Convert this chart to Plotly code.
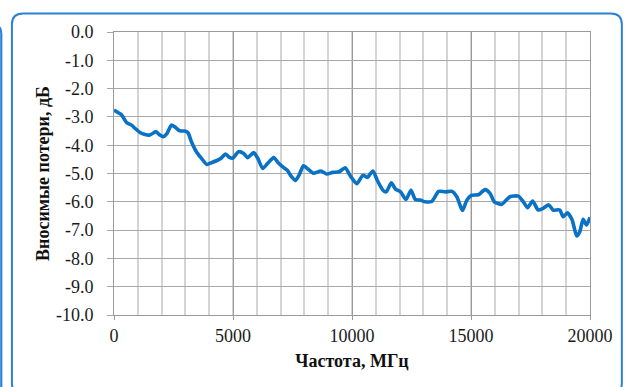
import plotly.graph_objects as go

# Insertion loss vs frequency
freq_mhz = [0, 180, 320, 530, 740, 880, 1090, 1300, 1510, 1760, 1900, 2060, 2230, 2410,
            2550, 2760, 2970, 3110, 3250, 3460, 3670, 3900, 4090, 4300, 4500, 4690, 4850,
            4990, 5230, 5450, 5620, 5870, 6040, 6250, 6460, 6710, 6880, 7080, 7270, 7460,
            7620, 7780, 7960, 8160, 8380, 8690, 8940, 9180, 9460, 9710, 9950, 10200, 10460,
            10640, 10880, 11060, 11300, 11440, 11650, 11830, 12040, 12270, 12480, 12660,
            12870, 13080, 13360, 13640, 13920, 14200, 14410, 14640, 14820, 15010, 15310,
            15590, 15800, 15980, 16290, 16500, 16640, 16990, 17200, 17380, 17590, 17820,
            18030, 18270, 18450, 18730, 18870, 19050, 19250, 19440, 19570, 19710, 19850,
            20000]
loss_db = [-2.76, -2.85, -2.93, -3.2, -3.29, -3.4, -3.55, -3.62, -3.64, -3.52, -3.62, -3.7,
           -3.58, -3.29, -3.35, -3.49, -3.5, -3.56, -3.87, -4.23, -4.46, -4.68, -4.62, -4.55,
           -4.46, -4.31, -4.43, -4.46, -4.23, -4.29, -4.44, -4.26, -4.46, -4.82, -4.64,
           -4.44, -4.6, -4.76, -4.88, -5.11, -5.25, -5.05, -4.73, -4.85, -4.99, -4.91,
           -5.02, -4.96, -4.94, -4.8, -5.11, -5.36, -5.06, -5.14, -4.91, -5.24, -5.59,
           -5.65, -5.33, -5.55, -5.65, -5.92, -5.59, -5.92, -5.94, -6.0, -5.98, -5.63,
           -5.65, -5.63, -5.83, -6.31, -5.95, -5.77, -5.75, -5.57, -5.7, -6.0, -6.09,
           -5.92, -5.82, -5.8, -6.0, -6.21, -5.97, -6.29, -6.23, -6.11, -6.29, -6.29,
           -6.53, -6.39, -6.64, -7.21, -7.06, -6.62, -6.82, -6.55]

y_tick_vals = [0, -1, -2, -3, -4, -5, -6, -7, -8, -9, -10]
y_tick_text = ["0.0", "-1.0", "-2.0", "-3.0", "-4.0", "-5.0", "-6.0", "-7.0", "-8.0",
               "-9.0", "-10.0"]
x_tick_vals = [0, 5000, 10000, 15000, 20000]
x_tick_text = ["0", "5000", "10000", "15000", "20000"]

x_title = "Частота, МГц"
y_title = "Вносимые потери, дБ"

W, H = 625, 387
ML, MR, MT, MB = 114, 33, 32, 72
PW, PH = W - ML - MR, H - MT - MB


def px(x, y):
    """Convert page pixels to paper coordinates."""
    return (x - ML) / PW, (H - MB - y) / PH


def rounded_rect(x0, y0, x1, y1, r):
    def P(x, y):
        a, b = px(x, y)
        return f"{a:.5f},{b:.5f}"
    return (f"M{P(x0 + r, y0)} L{P(x1 - r, y0)} Q{P(x1, y0)} {P(x1, y0 + r)} "
            f"L{P(x1, y1 - r)} Q{P(x1, y1)} {P(x1 - r, y1)} L{P(x0 + r, y1)} "
            f"Q{P(x0, y1)} {P(x0, y1 - r)} L{P(x0, y0 + r)} Q{P(x0, y0)} {P(x0 + r, y0)} Z")


serif = "Times New Roman"
frame_blue = "#2a82d2"

fig = go.Figure()
fig.add_trace(go.Scatter(
    x=freq_mhz, y=loss_db, mode="lines",
    line=dict(color="#0a72c4", width=3.6, shape="spline", smoothing=0.6),
    showlegend=False, hoverinfo="skip",
))

fig.update_layout(
    width=W, height=H,
    margin=dict(l=ML, r=MR, t=MT, b=MB, pad=0),
    paper_bgcolor="white", plot_bgcolor="white",
    font=dict(family=serif, size=18, color="#1a1a1a"),
    xaxis=dict(
        range=[0, 20000], tickvals=x_tick_vals, ticktext=x_tick_text,
        showgrid=True, gridcolor="#9a9a9a", gridwidth=1,
        minor=dict(dtick=1000, showgrid=True, gridcolor="#d4d4d4", gridwidth=1.6,
                   ticks=""),
        ticks="outside", ticklen=4, tickcolor="#9a9a9a", tickwidth=1,
        showline=True, linecolor="#9a9a9a", linewidth=1, mirror=True,
        zeroline=False, ticklabelstandoff=0,
        title=dict(text=f"<b>{x_title}</b>", standoff=9,
                   font=dict(family=serif, size=18, color="#111")),
        fixedrange=True,
    ),
    yaxis=dict(
        range=[-10, 0], tickvals=y_tick_vals, ticktext=y_tick_text,
        showgrid=True, gridcolor="#a8a8a8", gridwidth=1,
        ticks="outside", ticklen=6, tickcolor="#a8a8a8", tickwidth=1,
        showline=True, linecolor="#9a9a9a", linewidth=1, mirror=True,
        zeroline=False, ticklabelstandoff=10,
        title=dict(text=f"<b>{y_title}</b>", standoff=1,
                   font=dict(family=serif, size=18, color="#111")),
        fixedrange=True,
    ),
    shapes=[
        dict(type="path", xref="paper", yref="paper",
             path=rounded_rect(11.5, 13.5, 624, 394, 11),
             line=dict(color=frame_blue, width=2), fillcolor="rgba(0,0,0,0)",
             layer="below"),
        dict(type="path", xref="paper", yref="paper",
             path=rounded_rect(-40, 24, 0.8, 397, 10),
             line=dict(color=frame_blue, width=2.2), fillcolor="rgba(0,0,0,0)",
             layer="below"),
    ],
)

fig.write_html("out.html")
